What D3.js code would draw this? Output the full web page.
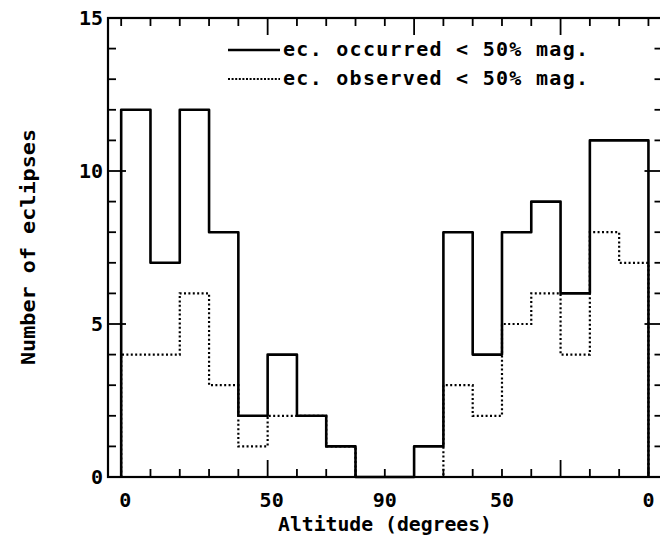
<!DOCTYPE html>
<html>
<head>
<meta charset="utf-8">
<script src="https://cdn.jsdelivr.net/npm/d3@7"></script>
<style>
  html, body { margin: 0; padding: 0; background: #fff; }
  svg text { font-family: "DejaVu Sans Mono", monospace; font-weight: bold; fill: #000; }
</style>
</head>
<body>
<svg id="chart" width="660" height="542"></svg>
<script>
// ---- data ----
// bin start along the 0 -> 90 -> 0 altitude axis (degrees traversed)
const binStarts = [0, 10, 20, 30, 40, 50, 60, 70, 80, 90, 100, 110, 120, 130, 140, 150, 160, 170];
const binWidth = 10;
const occurred = [12, 7, 12, 8, 2, 4, 2, 1, 0, 0, 1, 8, 4, 8, 9, 6, 11, 11];
const observed = [4, 4, 6, 3, 1, 2, 2, 1, 0, 0, 0, 3, 2, 5, 6, 4, 8, 7];
const xTickValues = [0, 50, 90, 130, 180];
const xTickLabels = ["0", "50", "90", "50", "0"];
const xMinorTicks = [0, 10, 20, 30, 40, 60, 70, 80, 90, 110, 120, 130, 140, 160, 170, 180];
const xMajorTicks = [50, 100, 150];
const yTickValues = [0, 5, 10, 15];
const yMinorTicks = [1, 2, 3, 4, 6, 7, 8, 9, 11, 12, 13, 14];
const legendLabels = ["ec. occurred < 50% mag.", "ec. observed < 50% mag."];

// ---- layout ----
const svg = d3.select("#chart");
const frame = { left: 108, right: 662.5, top: 18, bottom: 477 };
const x = d3.scaleLinear().domain([-4.5, 184.8]).range([frame.left, frame.right]);
const y = d3.scaleLinear().domain([0, 15]).range([frame.bottom, frame.top]);

// frame
svg.append("rect")
  .attr("x", frame.left).attr("y", frame.top)
  .attr("width", frame.right - frame.left).attr("height", frame.bottom - frame.top)
  .attr("fill", "none").attr("stroke", "#000").attr("stroke-width", 2.2);

// inward ticks
const tickG = svg.append("g").attr("stroke", "#000").attr("stroke-width", 1.8);
function xt(vals, len) {
  vals.forEach(v => {
    tickG.append("line").attr("x1", x(v)).attr("x2", x(v)).attr("y1", frame.bottom).attr("y2", frame.bottom - len);
    tickG.append("line").attr("x1", x(v)).attr("x2", x(v)).attr("y1", frame.top).attr("y2", frame.top + len);
  });
}
function yt(vals, len) {
  vals.forEach(v => {
    tickG.append("line").attr("x1", frame.left).attr("x2", frame.left + len).attr("y1", y(v)).attr("y2", y(v));
    tickG.append("line").attr("x1", frame.right).attr("x2", frame.right - len).attr("y1", y(v)).attr("y2", y(v));
  });
}
xt(xMinorTicks, 8);
xt(xMajorTicks, 17);
yt(yMinorTicks, 8);
yt([5, 10], 18);

// tick labels
svg.append("g").selectAll("text").data(xTickValues).join("text")
  .attr("x", d => x(d) + (d < 60 ? 4 : 0)).attr("y", 507)
  .attr("text-anchor", "middle").attr("font-size", 20)
  .text((d, i) => xTickLabels[i]);
svg.append("g").selectAll("text").data(yTickValues).join("text")
  .attr("x", 103).attr("y", d => y(d)).attr("dy", "0.36em")
  .attr("text-anchor", "end").attr("font-size", 20)
  .text(d => d);

// axis titles
svg.append("text").attr("x", 385).attr("y", 531).attr("text-anchor", "middle")
  .attr("font-size", 19).attr("textLength", 214).attr("lengthAdjust", "spacingAndGlyphs")
  .text("Altitude (degrees)");
svg.append("text").attr("transform", "translate(35,247) rotate(-90)").attr("text-anchor", "middle")
  .attr("font-size", 20).attr("textLength", 236).attr("lengthAdjust", "spacingAndGlyphs")
  .text("Number of eclipses");

// histogram step paths
function stepPoints(vals) {
  const pts = [[binStarts[0], 0]];
  vals.forEach((v, i) => {
    pts.push([binStarts[i], v]);
    pts.push([binStarts[i] + binWidth, v]);
  });
  pts.push([binStarts[binStarts.length - 1] + binWidth, 0]);
  return pts;
}
const line = d3.line().x(d => x(d[0])).y(d => y(d[1]));

svg.append("path").attr("d", line(stepPoints(observed)))
  .attr("fill", "none").attr("stroke", "#000").attr("stroke-width", 2.2)
  .attr("stroke-dasharray", "2,2.4");
svg.append("path").attr("d", line(stepPoints(occurred)))
  .attr("fill", "none").attr("stroke", "#000").attr("stroke-width", 2.6)
  .attr("stroke-linejoin", "round");

// legend
const leg = svg.append("g");
[0, 1].forEach(i => {
  const ly = 50 + i * 29;
  leg.append("line").attr("x1", 228).attr("x2", 280).attr("y1", ly).attr("y2", ly)
    .attr("stroke", "#000").attr("stroke-width", i === 0 ? 2.4 : 2)
    .attr("stroke-dasharray", i === 0 ? null : "2,1.6");
  leg.append("text").attr("x", 283).attr("y", ly + 6)
    .attr("font-size", 20).attr("textLength", 305).attr("lengthAdjust", "spacing")
    .text(legendLabels[i]);
});
</script>
</body>
</html>
